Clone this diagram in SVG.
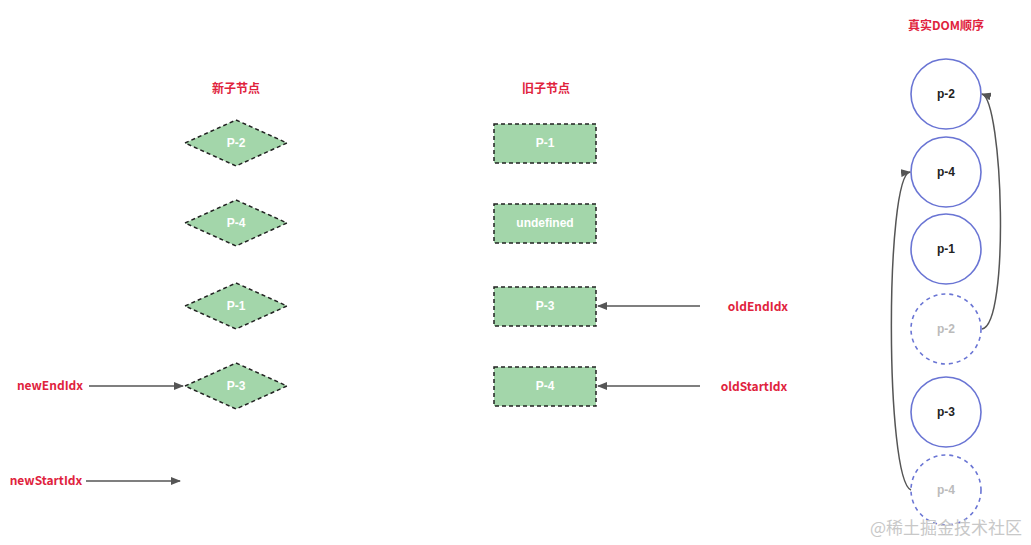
<svg xmlns="http://www.w3.org/2000/svg" width="1031" height="545" viewBox="0 0 1031 545">
<style>
.t{font-family:"Noto Sans CJK SC","Liberation Sans",sans-serif;font-weight:bold;font-size:12px;fill:#e0233d;text-anchor:middle}
.lab{font-family:"Liberation Sans",sans-serif;font-weight:bold;font-size:12px;text-anchor:middle;dominant-baseline:central}
.n{fill:#a3d6aa;stroke:#222;stroke-width:1.5;stroke-dasharray:4 3}
.c{fill:#fff;stroke:#6a75d4;stroke-width:1.6}
.cd{fill:#fff;stroke:#6a75d4;stroke-width:1.6;stroke-dasharray:4 4}
.e{fill:none;stroke:#555;stroke-width:1.5;marker-end:url(#a)}
</style>
<defs><marker id="a" markerWidth="10" markerHeight="8" refX="9" refY="4" orient="auto" markerUnits="userSpaceOnUse"><path d="M0,0L10,4L0,8z" fill="#555"/></marker></defs>
<rect width="1031" height="545" fill="#fff"/>
<text class="t" x="236" y="93">新子节点</text>
<text class="t" x="546" y="93">旧子节点</text>
<text class="t" x="946" y="30">真实DOM顺序</text>
<g id="n-p2"><polygon class="n" points="185,143 236,120 287,143 236,166"/><text class="lab" x="236" y="143" fill="#fff">P-2</text></g>
<g id="n-p4"><polygon class="n" points="185,223 236,200 287,223 236,246"/><text class="lab" x="236" y="223" fill="#fff">P-4</text></g>
<g id="n-p1"><polygon class="n" points="185,306 236,283 287,306 236,329"/><text class="lab" x="236" y="306" fill="#fff">P-1</text></g>
<g id="n-p3"><polygon class="n" points="185,386 236,363 287,386 236,409"/><text class="lab" x="236" y="386" fill="#fff">P-3</text></g>
<g id="o-p1"><rect class="n" x="494" y="124" width="102" height="39"/><text class="lab" x="545" y="143" fill="#fff">P-1</text></g>
<g id="o-undef"><rect class="n" x="494" y="204" width="102" height="39"/><text class="lab" x="545" y="223" fill="#fff">undefined</text></g>
<g id="o-p3"><rect class="n" x="494" y="287" width="102" height="39"/><text class="lab" x="545" y="306" fill="#fff">P-3</text></g>
<g id="o-p4"><rect class="n" x="494" y="367" width="102" height="39"/><text class="lab" x="545" y="386" fill="#fff">P-4</text></g>
<g id="d1"><circle class="c" cx="946" cy="94" r="35"/><text class="lab" x="946" y="94" fill="#222">p-2</text></g>
<g id="d2"><circle class="c" cx="946" cy="172" r="35"/><text class="lab" x="946" y="172" fill="#222">p-4</text></g>
<g id="d3"><circle class="c" cx="946" cy="249" r="35"/><text class="lab" x="946" y="249" fill="#222">p-1</text></g>
<g id="d4"><circle class="cd" cx="946" cy="329" r="35"/><text class="lab" x="946" y="329" fill="#bbb">p-2</text></g>
<g id="d5"><circle class="c" cx="946" cy="412" r="35"/><text class="lab" x="946" y="412" fill="#222">p-3</text></g>
<g id="d6"><circle class="cd" cx="946" cy="490" r="35"/><text class="lab" x="946" y="490" fill="#bbb">p-4</text></g>
<g id="labels">
<text class="t" x="50" y="390">newEndIdx</text>
<text class="t" x="46" y="485">newStartIdx</text>
<text class="t" x="758" y="311">oldEndIdx</text>
<text class="t" x="754" y="391">oldStartIdx</text>
</g>
<g id="connectors">
<line class="e" x1="89" y1="386" x2="183" y2="386"/>
<line class="e" x1="86" y1="481" x2="180" y2="481"/>
<line class="e" x1="700" y1="306" x2="598" y2="306"/>
<line class="e" x1="700" y1="386" x2="598" y2="386"/>
<path class="e" d="M982,329 C1010,325 1003,100 982,94"/>
<path class="e" d="M911,490 C885,480 885,175 910,172"/>
</g>
<text x="1022" y="534" font-family="Noto Sans CJK SC,sans-serif" font-size="17" fill="#c8c8c8" text-anchor="end">@稀土掘金技术社区</text>
</svg>
